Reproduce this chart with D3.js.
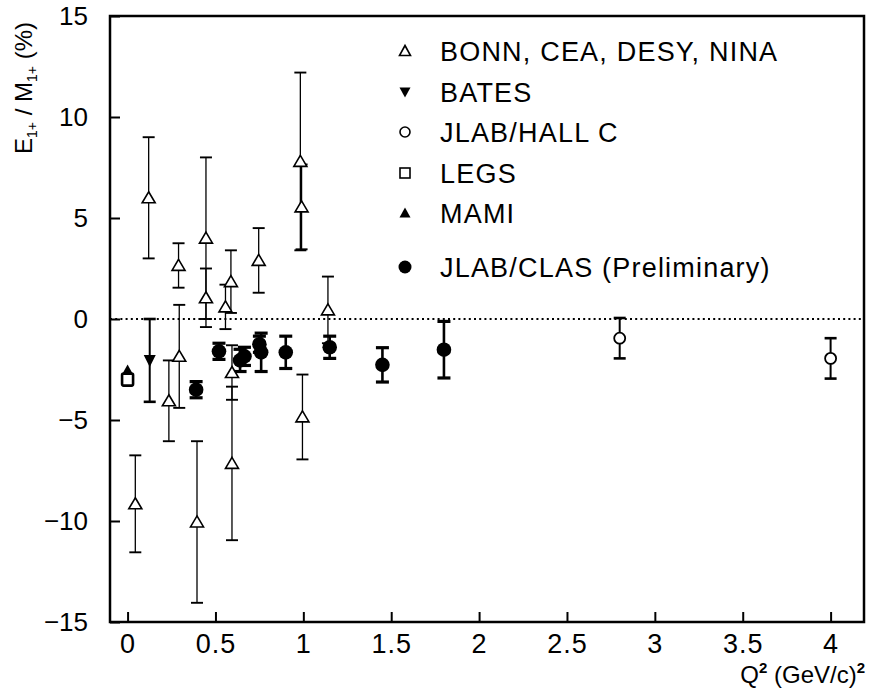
<!DOCTYPE html>
<html lang="en">
  <head>
    <meta charset="UTF-8" />
    <title>E1+/M1+ vs Q2</title>
    <style>
      body { margin: 0; background: #fff; }
      text { fill: #000; }
    </style>
  </head>
  <body>
    <svg id="chart" width="869" height="691"></svg>

    <script src="https://d3js.org/d3.v7.min.js"></script>
    <script>
      // BONN, CEA, DESY, NINA (open triangles)
      const bonnQ2 = [0.044, 0.12, 0.235, 0.29, 0.294, 0.395, 0.446, 0.446, 0.557, 0.588, 0.594, 0.594, 0.746, 0.983, 0.99, 0.995, 1.14];
      const bonnRatio = [-9.15, 6.0, -4.05, 2.65, -1.85, -10.05, 4.0, 1.05, 0.6, 1.85, -2.65, -7.15, 2.9, 7.8, 5.55, -4.85, 0.45];
      const bonnErr = [2.4, 3.0, 2.0, 1.1, 2.55, 4.0, 4.0, 1.45, 1.1, 1.55, 1.35, 3.8, 1.6, 4.4, 2.1, 2.1, 1.65];

      // BATES
      const batesQ2 = [0.126];
      const batesRatio = [-2.05];
      const batesErr = [2.05];

      // JLAB / HALL C
      const hallcQ2 = [2.8, 4.0];
      const hallcRatio = [-0.95, -1.95];
      const hallcErr = [1.0, 1.0];

      // LEGS, MAMI (real photon point)
      const legsQ2 = [0.0];
      const legsRatio = [-3.0];
      const mamiQ2 = [0.0];
      const mamiRatio = [-2.5];

      // JLAB / CLAS (preliminary)
      const clasQ2 = [0.39, 0.52, 0.64, 0.665, 0.75, 0.76, 0.9, 1.15, 1.45, 1.8];
      const clasRatio = [-3.5, -1.6, -2.05, -1.85, -1.25, -1.65, -1.65, -1.4, -2.27, -1.52];
      const clasErr = [0.4, 0.4, 0.55, 0.45, 0.4, 0.95, 0.8, 0.55, 0.85, 1.4];

      const xTicks = [0, 0.5, 1, 1.5, 2, 2.5, 3, 3.5, 4];
      const yTicks = [-15, -10, -5, 0, 5, 10, 15];

      const legendLabels = ["BONN, CEA, DESY, NINA", "BATES", "JLAB/HALL C", "LEGS", "MAMI", "JLAB/CLAS (Preliminary)"];

      const svg = d3.select("#chart");
      const pLeft = 110, pRight = 864, pTop = 16, pBottom = 622;
      const font = "'Liberation Sans', Arial, sans-serif";

      const x = d3.scaleLinear().domain([-0.1, 4.19]).range([pLeft, pRight]);
      const y = d3.scaleLinear().domain([-15, 15]).range([pBottom, pTop]);

      const zip = (qs, vs, es) => qs.map((q, i) => ({ q, v: vs[i], e: es ? es[i] : 0 }));

      // zero line
      svg.append("line")
        .attr("x1", pLeft).attr("x2", pRight)
        .attr("y1", y(0)).attr("y2", y(0))
        .attr("stroke", "#000")
        .attr("stroke-width", 2)
        .attr("stroke-dasharray", "2,3.2");

      // axes
      const xAxis = svg.append("g")
        .attr("transform", `translate(0,${pBottom})`)
        .call(d3.axisBottom(x).tickValues(xTicks).tickSize(-10).tickPadding(12).tickFormat(d3.format("")));
      xAxis.select(".domain").remove();
      xAxis.selectAll("line").attr("stroke-width", 2);
      xAxis.selectAll("text")
        .attr("font-family", font)
        .attr("font-size", 27)
        .attr("letter-spacing", 1)
        .attr("fill", "#000");

      const yAxis = svg.append("g")
        .attr("transform", `translate(${pLeft},0)`)
        .call(d3.axisLeft(y).tickValues(yTicks).tickSize(-10).tickPadding(22));
      yAxis.select(".domain").remove();
      yAxis.selectAll("line").attr("stroke-width", 2);
      yAxis.selectAll("text")
        .attr("font-family", font)
        .attr("font-size", 26)
        .attr("fill", "#000")
        .text(d => d < 0 ? "\u2212" + Math.abs(d) : d);

      // frame
      svg.append("rect")
        .attr("x", pLeft).attr("y", pTop)
        .attr("width", pRight - pLeft).attr("height", pBottom - pTop)
        .attr("fill", "none")
        .attr("stroke", "#000")
        .attr("stroke-width", 2.5);

      // error bars
      function errorBars(data, width, cap) {
        const g = svg.append("g").attr("stroke", "#000").attr("stroke-width", width);
        g.selectAll("line.v").data(data).enter().append("line")
          .attr("x1", d => x(d.q)).attr("x2", d => x(d.q))
          .attr("y1", d => y(d.v + d.e)).attr("y2", d => y(d.v - d.e));
        [1, -1].forEach(s => {
          g.selectAll("line.c" + s).data(data).enter().append("line")
            .attr("x1", d => x(d.q) - cap).attr("x2", d => x(d.q) + cap)
            .attr("y1", d => y(d.v + s * d.e)).attr("y2", d => y(d.v + s * d.e))
            .attr("stroke-width", width + 0.6);
        });
      }

      const tri = (w, h, down) => {
        const s = down ? -1 : 1;
        return `M0,${-s * h * 0.55}L${w / 2},${s * h * 0.45}L${-w / 2},${s * h * 0.45}Z`;
      };

      const bonn = zip(bonnQ2, bonnRatio, bonnErr);
      const bates = zip(batesQ2, batesRatio, batesErr);
      const hallc = zip(hallcQ2, hallcRatio, hallcErr);
      const clas = zip(clasQ2, clasRatio, clasErr);

      errorBars(bonn, 1.3, 6);
      errorBars(bates, 2, 6);
      errorBars(hallc, 2, 6);
      errorBars(clas, 2.6, 6.5);

      svg.append("g").selectAll("path").data(bonn).enter().append("path")
        .attr("d", tri(13, 11, false))
        .attr("transform", d => `translate(${x(d.q)},${y(d.v)})`)
        .attr("fill", "#fff").attr("stroke", "#000").attr("stroke-width", 1.6);

      svg.append("g").selectAll("path").data(bates).enter().append("path")
        .attr("d", tri(12, 12, true))
        .attr("transform", d => `translate(${x(d.q)},${y(d.v)})`)
        .attr("fill", "#000");

      svg.append("g").selectAll("circle").data(hallc).enter().append("circle")
        .attr("cx", d => x(d.q)).attr("cy", d => y(d.v)).attr("r", 5.5)
        .attr("fill", "#fff").attr("stroke", "#000").attr("stroke-width", 1.8);

      svg.append("g").selectAll("rect").data(zip(legsQ2, legsRatio)).enter().append("rect")
        .attr("x", d => x(d.q) - 5.5).attr("y", d => y(d.v) - 6)
        .attr("width", 11).attr("height", 12).attr("rx", 1.5)
        .attr("fill", "#fff").attr("stroke", "#000").attr("stroke-width", 2.6);

      svg.append("g").selectAll("path").data(zip(mamiQ2, mamiRatio)).enter().append("path")
        .attr("d", tri(10, 9, false))
        .attr("transform", d => `translate(${x(d.q)},${y(d.v)})`)
        .attr("fill", "#000");

      svg.append("g").selectAll("circle").data(clas).enter().append("circle")
        .attr("cx", d => x(d.q)).attr("cy", d => y(d.v)).attr("r", 7.3)
        .attr("fill", "#000");

      // legend
      const legY = [51, 92, 132, 173, 213, 267];
      const lg = svg.append("g");
      lg.selectAll("text").data(legendLabels).enter().append("text")
        .attr("x", 440).attr("y", (d, i) => legY[i] + 10)
        .attr("font-family", font)
        .attr("font-size", 27)
        .attr("letter-spacing", 1.2)
        .text(d => d);
      const sx = 405;
      lg.append("path").attr("d", tri(11, 10, false)).attr("transform", `translate(${sx},${legY[0]})`)
        .attr("fill", "none").attr("stroke", "#000").attr("stroke-width", 1.6);
      lg.append("path").attr("d", tri(11, 10, true)).attr("transform", `translate(${sx},${legY[1]})`)
        .attr("fill", "#000");
      lg.append("circle").attr("cx", sx).attr("cy", legY[2]).attr("r", 5)
        .attr("fill", "none").attr("stroke", "#000").attr("stroke-width", 1.6);
      lg.append("rect").attr("x", sx - 5).attr("y", legY[3] - 5).attr("width", 10).attr("height", 10)
        .attr("fill", "none").attr("stroke", "#000").attr("stroke-width", 1.6);
      lg.append("path").attr("d", tri(11, 10, false)).attr("transform", `translate(${sx},${legY[4]})`)
        .attr("fill", "#000");
      lg.append("circle").attr("cx", sx).attr("cy", legY[5]).attr("r", 6.5).attr("fill", "#000");

      // y axis title
      const yt = svg.append("text")
        .attr("transform", "translate(32,88) rotate(-90)")
        .attr("text-anchor", "middle")
        .attr("font-family", font)
        .attr("font-size", 24);
      yt.append("tspan").text("E");
      yt.append("tspan").attr("font-size", 14).attr("dy", 5).text("1+");
      yt.append("tspan").attr("dy", -5).text(" / M");
      yt.append("tspan").attr("font-size", 14).attr("dy", 5).text("1+");
      yt.append("tspan").attr("dy", -5).text(" (%)");

      // x axis title
      const xt = svg.append("text")
        .attr("x", 865).attr("y", 683)
        .attr("text-anchor", "end")
        .attr("font-family", font)
        .attr("font-size", 24);
      xt.append("tspan").text("Q");
      xt.append("tspan").attr("font-size", 15).attr("dy", -10).attr("font-weight", "bold").text("2");
      xt.append("tspan").attr("dy", 10).text(" (GeV/c)");
      xt.append("tspan").attr("font-size", 15).attr("dy", -10).attr("font-weight", "bold").text("2");
    </script>
  </body>
</html>
